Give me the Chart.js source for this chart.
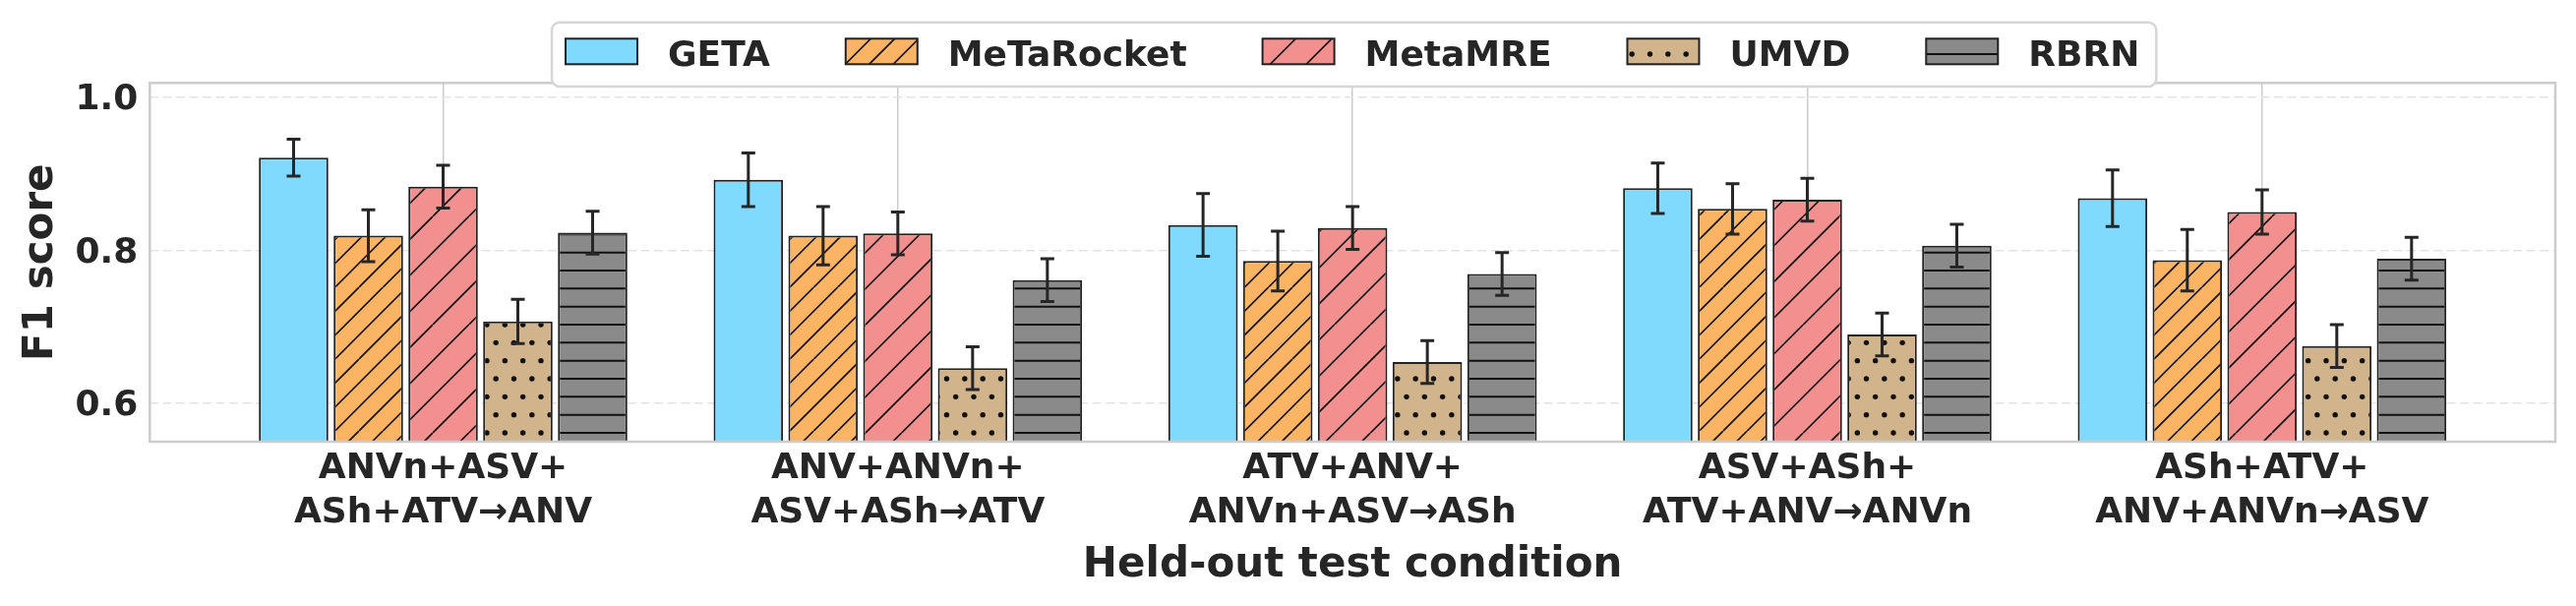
<!DOCTYPE html>
<html>
<head>
<meta charset="utf-8">
<script src="https://cdn.jsdelivr.net/npm/chart.js@4.4.1/dist/chart.umd.min.js"></script>
<style>
    html, body { margin: 0; padding: 0; background: #ffffff; }
    #wrap { width: 2619px; height: 616px; }
</style>
</head>
<body>
<div id="wrap"><canvas id="f1Chart" width="2619" height="616"></canvas></div>
<script>
// held-out conditions (x categories, two lines each)
const conditions = [
    ['ANVn+ASV+', 'ASh+ATV→ANV'],
    ['ANV+ANVn+', 'ASV+ASh→ATV'],
    ['ATV+ANV+', 'ANVn+ASV→ASh'],
    ['ASV+ASh+', 'ATV+ANV→ANVn'],
    ['ASh+ATV+', 'ANV+ANVn→ASV']
];
const seriesNames = ['GETA', 'MeTaRocket', 'MetaMRE', 'UMVD', 'RBRN'];

// mean F1 per condition
const getaF1       = [0.921, 0.892, 0.833, 0.881, 0.868];
const metaRocketF1 = [0.819, 0.819, 0.786, 0.854, 0.787];
const metaMreF1    = [0.883, 0.822, 0.829, 0.866, 0.850];
const umvdF1       = [0.707, 0.646, 0.654, 0.690, 0.675];
const rbrnF1       = [0.823, 0.761, 0.769, 0.806, 0.789];

// error bar half-widths
const getaErr       = [0.024, 0.035, 0.041, 0.033, 0.037];
const metaRocketErr = [0.034, 0.038, 0.039, 0.033, 0.040];
const metaMreErr    = [0.028, 0.028, 0.028, 0.028, 0.029];
const umvdErr       = [0.029, 0.028, 0.028, 0.028, 0.028];
const rbrnErr       = [0.028, 0.028, 0.028, 0.028, 0.028];

const yTicks = [0.6, 0.8, 1.0];

const seriesValues = [getaF1, metaRocketF1, metaMreF1, umvdF1, rbrnF1];
const seriesErrors = [getaErr, metaRocketErr, metaMreErr, umvdErr, rbrnErr];

const colors = ['#80dafe', '#fbb463', '#f29090', '#d2b48c', '#8a8a8a'];
const hatches = ['none', 'dense', 'diag', 'dots', 'hlines'];
const textColor = '#262626';
const fontFamily = "'DejaVu Sans', sans-serif";

function hatchFill(bg, kind) {
    if (kind === 'none') return bg;
    const cv = document.createElement('canvas');
    let w = 110, h = 110;
    if (kind === 'dense') { w = 73; h = 73; }
    if (kind === 'dots') { w = 55; h = 110; }
    if (kind === 'hlines') { w = 8; h = 55; }
    cv.width = w;
    cv.height = h;
    const ctx = cv.getContext('2d');
    ctx.fillStyle = bg;
    ctx.fillRect(0, 0, w, h);
    ctx.strokeStyle = '#111111';
    ctx.fillStyle = '#111111';
    if (kind === 'diag' || kind === 'dense') {
        const step = w / 3;
        ctx.lineWidth = 1.7;
        ctx.beginPath();
        for (let c0 = -w; c0 <= 2 * w + 0.1; c0 += step) {
            ctx.moveTo(c0, h);
            ctx.lineTo(c0 + w, 0);
        }
        ctx.stroke();
    } else if (kind === 'dots') {
        const step = h / 6;
        for (let r = 0; r <= 6; r++) {
            const off = r % 2 ? step / 2 : 0;
            for (let k = -1; k <= 3; k++) {
                ctx.beginPath();
                ctx.arc(k * step + off, r * step, 2.7, 0, Math.PI * 2);
                ctx.fill();
            }
        }
    } else if (kind === 'hlines') {
        ctx.lineWidth = 2;
        ctx.beginPath();
        for (let k = 0; k <= 3; k++) {
            ctx.moveTo(0, k * h / 3);
            ctx.lineTo(w, k * h / 3);
        }
        ctx.stroke();
    }
    return ctx.createPattern(cv, 'repeat');
}

const datasets = seriesNames.map((name, s) => ({
    label: name,
    data: seriesValues[s].map((v, i) => ({ x: i, y: v })),
    errors: seriesErrors[s],
    backgroundColor: hatchFill(colors[s], hatches[s]),
    borderColor: '#222222',
    borderWidth: 2,
    categoryPercentage: 0.822,
    barPercentage: 0.929
}));

// error bars + axes frame, drawn over the bars
const errorBarPlugin = {
    id: 'errorBars',
    afterDatasetsDraw(chart) {
        const ctx = chart.ctx;
        const yScale = chart.scales.y;
        ctx.save();
        ctx.strokeStyle = textColor;
        ctx.lineWidth = 3;
        chart.data.datasets.forEach((ds, s) => {
            chart.getDatasetMeta(s).data.forEach((bar, i) => {
                const v = ds.data[i].y;
                const e = ds.errors[i];
                const top = yScale.getPixelForValue(v + e);
                const bot = yScale.getPixelForValue(v - e);
                ctx.beginPath();
                ctx.moveTo(bar.x, top); ctx.lineTo(bar.x, bot);
                ctx.moveTo(bar.x - 7, top); ctx.lineTo(bar.x + 7, top);
                ctx.moveTo(bar.x - 7, bot); ctx.lineTo(bar.x + 7, bot);
                ctx.stroke();
            });
        });
        const a = chart.chartArea;
        ctx.strokeStyle = '#cccccc';
        ctx.lineWidth = 2.5;
        ctx.strokeRect(a.left, a.top, a.right - a.left, a.bottom - a.top);
        ctx.restore();
    }
};

function roundRectPath(ctx, x, y, w, h, r) {
    ctx.beginPath();
    ctx.moveTo(x + r, y);
    ctx.lineTo(x + w - r, y);
    ctx.arcTo(x + w, y, x + w, y + r, r);
    ctx.lineTo(x + w, y + h - r);
    ctx.arcTo(x + w, y + h, x + w - r, y + h, r);
    ctx.lineTo(x + r, y + h);
    ctx.arcTo(x, y + h, x, y + h - r, r);
    ctx.lineTo(x, y + r);
    ctx.arcTo(x, y, x + r, y, r);
    ctx.closePath();
}

// framed legend overlapping the top of the axes, like matplotlib's
const legendBoxPlugin = {
    id: 'legendBox',
    afterDraw(chart, args, opts) {
        const ctx = chart.ctx;
        ctx.save();
        ctx.font = 'bold ' + opts.fontSize + 'px ' + fontFamily;
        const items = chart.data.datasets.map(ds => ({
            label: ds.label,
            fill: ds.backgroundColor,
            w: ctx.measureText(ds.label).width
        }));
        const total = items.reduce((acc, it) => acc + opts.boxW + opts.textGap + it.w, 0)
            + opts.itemGap * (items.length - 1);
        const cx = (chart.chartArea.left + chart.chartArea.right) / 2;
        let x = cx - total / 2;
        const left = x - opts.padLeft;
        const right = x + total + opts.padRight;
        roundRectPath(ctx, left, opts.top, right - left, opts.bottom - opts.top, 8);
        ctx.fillStyle = 'rgba(255,255,255,0.9)';
        ctx.fill();
        ctx.strokeStyle = '#d6d6d6';
        ctx.lineWidth = 2.5;
        ctx.stroke();
        items.forEach(it => {
            ctx.fillStyle = it.fill;
            ctx.fillRect(x, opts.boxTop, opts.boxW, opts.boxH);
            ctx.strokeStyle = '#222222';
            ctx.lineWidth = 2;
            ctx.strokeRect(x, opts.boxTop, opts.boxW, opts.boxH);
            ctx.fillStyle = textColor;
            ctx.textBaseline = 'alphabetic';
            ctx.textAlign = 'left';
            ctx.fillText(it.label, x + opts.boxW + opts.textGap, opts.baseline);
            x += opts.boxW + opts.textGap + it.w + opts.itemGap;
        });
        ctx.restore();
    }
};

const ctx = document.getElementById('f1Chart').getContext('2d');
const f1Chart = new Chart(ctx, {
    type: 'bar',
    data: { datasets: datasets },
    options: {
        responsive: false,
        animation: false,
        devicePixelRatio: 1,
        layout: { padding: { left: 0, top: 84.3, right: 21, bottom: 0 } },
        plugins: {
            legend: { display: false },
            tooltip: { enabled: false },
            legendBox: {
                fontSize: 36, boxW: 73, boxH: 26, boxTop: 39.3, textGap: 31, itemGap: 77,
                padLeft: 14, padRight: 17, top: 22.7, bottom: 88, baseline: 66.7
            }
        },
        scales: {
            x: {
                type: 'linear',
                min: -0.645,
                max: 4.645,
                offset: false,
                afterBuildTicks: (scale) => { scale.ticks = conditions.map((_, i) => ({ value: i })); },
                afterFit: (scale) => { scale.height = 167; },
                grid: { color: '#cccccc', lineWidth: 1.5, drawTicks: false, offset: false },
                border: { display: false },
                ticks: {
                    padding: 5,
                    color: textColor,
                    autoSkip: false,
                    maxRotation: 0,
                    font: { family: fontFamily, weight: 'bold', size: 36, lineHeight: 1.25 },
                    callback: (value) => conditions[value]
                },
                title: {
                    display: true,
                    text: 'Held-out test condition',
                    color: textColor,
                    font: { family: fontFamily, weight: 'bold', size: 42 },
                    padding: { top: 0, bottom: 15.5 }
                }
            },
            y: {
                min: 0.55,
                max: 1.0185,
                afterBuildTicks: (scale) => { scale.ticks = yTicks.map(v => ({ value: v })); },
                afterFit: (scale) => { scale.width = 152.3; },
                grid: { color: '#e4e4e4', lineWidth: 1.6, drawTicks: false },
                border: { display: false, dash: [9, 4.5] },
                ticks: {
                    padding: 12,
                    labelOffset: 3,
                    color: textColor,
                    font: { family: fontFamily, weight: 'bold', size: 36 },
                    callback: (value) => value.toFixed(1)
                },
                title: {
                    display: true,
                    text: 'F1 score',
                    color: textColor,
                    font: { family: fontFamily, weight: 'bold', size: 42 },
                    padding: { top: 17, bottom: 0 }
                }
            }
        }
    },
    plugins: [errorBarPlugin, legendBoxPlugin]
});
</script>
</body>
</html>
